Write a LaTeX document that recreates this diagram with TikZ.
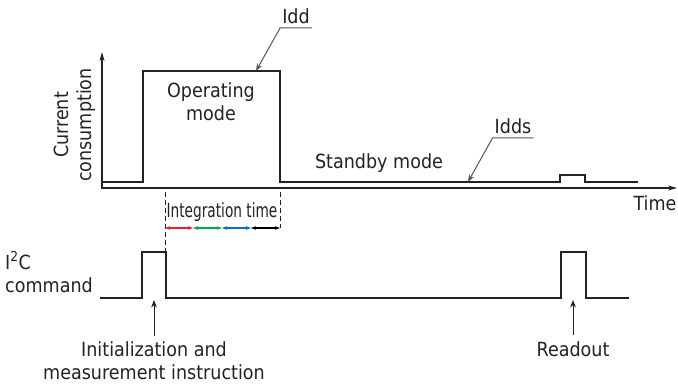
\documentclass[tikz,border=0pt]{standalone}
\usepackage{fontspec}
\setmainfont{DejaVu Sans}[FakeStretch=0.9]
\usepackage{xcolor}
\usepackage{tikz}
\usetikzlibrary{calc}
\usetikzlibrary{arrows.meta}

\definecolor{ink}{HTML}{222222}
\definecolor{leadgray}{HTML}{555555}
\definecolor{intred}{HTML}{E8202A}
\definecolor{intgreen}{HTML}{00A651}
\definecolor{intblue}{HTML}{0070C0}

\tikzset{
  lbl/.style={font=\fontsize{19.5}{23}\selectfont, text=ink, inner sep=1pt},
  trace/.style={ink, line width=2.4pt},
  signal/.style={ink, line width=1.2pt},
  axis/.style={ink, line width=1.3pt},
  leader/.style={leadgray, line width=1pt},
  window/.style={ink, line width=0.9pt, dash pattern=on 5pt off 3pt},
  span/.style={line width=1.1pt, {Stealth[length=5pt,width=3.5pt]}-{Stealth[length=5pt,width=3.5pt]}}
}

\begin{document}
\begin{tikzpicture}[x=1pt,y=-1pt,>=Stealth]
      \useasboundingbox (0,0) rectangle (678,387);

      % current consumption
      \draw[axis,{Stealth[length=9pt,width=5pt]}-{Stealth[length=9pt,width=5pt]}]
        (102,52) -- (102,188) -- (677,188);
      \draw[trace] (102,182) -- (143,182) -- (143,71) -- (280,71) -- (280,182)
        -- (560,182) -- (560,175) -- (585,175) -- (585,182) -- (638,182);

      \node[lbl, rotate=90, align=center] (cur) at (75,125) {Current\\consumption};
      \node[lbl, align=center] (op) at (211,102) {Operating\\mode};
      \node[lbl] (stby) at (379,163) {Standby mode};
      \node[lbl] (time) at (655,203) {Time};

      \coordinate (iddtip) at (256,71);
      \coordinate (iddstip) at (468,182);
      \node[lbl, anchor=south, text depth=0pt, inner ysep=4pt, inner xsep=2pt] (idd) at (296,28) {Idd};
      \node[lbl, anchor=south, text depth=0pt, inner ysep=4pt, inner xsep=2pt] (idds) at (513,138) {Idds};
      \draw[leader,<-] (iddtip) -- (idd.south west) -- (idd.south east);
      \draw[leader,<-] (iddstip) -- (idds.south west) -- (idds.south east);

      % integration window
      \coordinate (t0) at (165,228);
      \coordinate (t1) at (193,228);
      \coordinate (t2) at (222,228);
      \coordinate (t3) at (251,228);
      \coordinate (t4) at (280,228);
      \draw[window] (165,192) -- (165,252);
      \draw[window] (280,192) -- (t4);
      \draw[span,intred] (t0) -- (t1);
      \draw[span,intgreen] (t1) -- (t2);
      \draw[span,intblue] (t2) -- (t3);
      \draw[span,black] (t3) -- (t4);
      \node[lbl] (intg) at (222,212) {\scalebox{0.78}[1]{Integration time}};

      % I2C command
      \draw[signal] (100,298) -- (142,298) -- (142,252) -- (166,252) -- (166,298)
        -- (561,298) -- (561,252) -- (586,252) -- (586,298) -- (629,298);
      \node[lbl, anchor=west, align=left] (i2c) at (4,272) {I\textsuperscript{2}C\\command};

      \coordinate (initpt) at (154,300);
      \coordinate (readpt) at (573,300);
      \node[lbl, align=center] (init) at (154,361) {Initialization and\\measurement instruction};
      \node[lbl] (read) at (573,349) {Readout};
      \draw[signal,line width=1pt,->] (init.north) ++(0,-5) -- (initpt);
      \draw[signal,line width=1pt,->] (read.north) ++(0,-5) -- (readpt);
\end{tikzpicture}
\end{document}
